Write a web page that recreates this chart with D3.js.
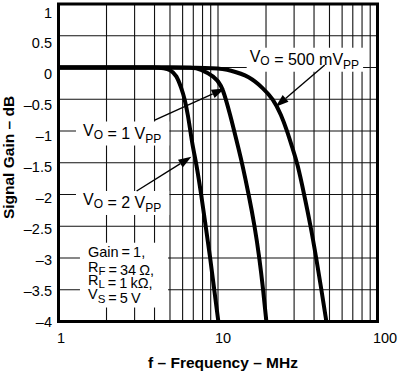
<!DOCTYPE html>
<html>
<head>
<meta charset="utf-8">
<script src="https://cdn.jsdelivr.net/npm/d3@7"></script>
<style>
  body { margin: 0; background: #fff; }
  svg { display: block; font-family: "Liberation Sans", Arial, Helvetica, sans-serif; }
</style>
</head>
<body>
<div id="chart"></div>
<script>
// tick values
const xTicks = [1, 10, 100]
const xGrid = [2, 3, 4, 5, 6, 7, 8, 9, 20, 30, 40, 50, 60, 70, 80, 90]
const yTicks = [1, 0.5, 0, -0.5, -1, -1.5, -2, -2.5, -3, -3.5, -4]

// V_O = 2 Vpp
const freq2 = [1, 2, 3, 4, 4.6, 5.0, 5.5, 5.9, 6.18, 6.48, 6.71, 6.97, 7.3, 7.85, 8.37, 8.94, 9.47, 10.05]
const gain2 = [0, 0, 0, 0, -0.01, -0.03, -0.12, -0.33, -0.49, -0.75, -1.0, -1.27, -1.5, -2.0, -2.5, -3.0, -3.5, -4.0]

// V_O = 1 Vpp
const freq1 = [1, 3, 5, 7, 7.68, 9.5, 10.5, 11.17, 11.93, 12.64, 13.43, 14.14, 15.58, 16.99, 18.18, 19.2, 20.1]
const gain1 = [0, 0, 0, 0, -0.02, -0.14, -0.28, -0.49, -0.75, -1.0, -1.27, -1.5, -2.0, -2.5, -3.0, -3.5, -4.0]

// V_O = 500 mVpp
const freq5 = [1, 3, 5, 10, 11.84, 15.8, 19.2, 22.1, 24.96, 27.1, 29.3, 31.4, 34.7, 38.1, 41.3, 44.5, 47.8]
const gain5 = [0, 0, 0, -0.01, -0.04, -0.14, -0.33, -0.49, -0.75, -1.0, -1.27, -1.5, -2.0, -2.5, -3.0, -3.5, -4.0]

const width = 400
const height = 374
const plot = { left: 58.5, right: 377.5, top: 4, bottom: 321.5 }

const svg = d3.select("#chart").append("svg")
  .attr("width", width)
  .attr("height", height)

const x = d3.scaleLog().domain([1, 100]).range([plot.left, plot.right])
const y = d3.scaleLinear().domain([-4, 1]).range([plot.bottom, plot.top])
// the printed tick labels sit a little off the grid in the original
const xLab = d3.scaleLog().domain([1, 100]).range([61, 385])
const yLab = d3.scaleLinear().domain([-4, 1]).range([321.7, 12.3])

// grid
svg.append("g")
  .selectAll("line")
  .data(xGrid.concat(10))
  .enter()
  .append("line")
    .attr("x1", d => x(d)).attr("x2", d => x(d))
    .attr("y1", plot.top).attr("y2", plot.bottom)
    .attr("stroke", "#111")
    .attr("stroke-width", 1.1)

svg.append("g")
  .selectAll("line")
  .data(yTicks)
  .enter()
  .append("line")
    .attr("x1", plot.left).attr("x2", plot.right)
    .attr("y1", d => y(d)).attr("y2", d => y(d))
    .attr("stroke", "#111")
    .attr("stroke-width", 1.1)

// tick labels
svg.append("g")
  .selectAll("text")
  .data(yTicks)
  .enter()
  .append("text")
    .attr("x", 52)
    .attr("y", d => yLab(d) + 5.2)
    .attr("text-anchor", "end")
    .attr("font-size", 14.5)
    .text(d => d < 0 ? "\u2013" + Math.abs(d) : d)

svg.append("g")
  .selectAll("text")
  .data(xTicks)
  .enter()
  .append("text")
    .attr("x", d => xLab(d))
    .attr("y", 343.3)
    .attr("text-anchor", "middle")
    .attr("font-size", 14.5)
    .text(d => d)

// axis titles
svg.append("text")
  .attr("transform", "translate(13.5,157.5) rotate(-90)")
  .attr("text-anchor", "middle")
  .attr("font-size", 15.5)
  .attr("font-weight", "bold")
  .text("Signal Gain \u2013 dB")

svg.append("text")
  .attr("x", xLab(10))
  .attr("y", 368.3)
  .attr("text-anchor", "middle")
  .attr("font-size", 15.5)
  .attr("font-weight", "bold")
  .text("f \u2013 Frequency \u2013 MHz")

// curves
const line = d3.line()
  .x(d => x(d[0]))
  .y(d => y(d[1]))
  .curve(d3.curveBasis)

svg.append("clipPath").attr("id", "clip")
  .append("rect")
    .attr("x", plot.left).attr("y", plot.top)
    .attr("width", plot.right - plot.left).attr("height", plot.bottom - plot.top)

const series = [
  d3.zip(freq2, gain2),
  d3.zip(freq1, gain1),
  d3.zip(freq5, gain5)
]

svg.append("g")
  .attr("clip-path", "url(#clip)")
  .selectAll("path")
  .data(series)
  .enter()
  .append("path")
    .attr("d", line)
    .attr("fill", "none")
    .attr("stroke", "#000")
    .attr("stroke-width", 4)
    .attr("stroke-linejoin", "round")

// frame
svg.append("rect")
  .attr("x", plot.left).attr("y", plot.top)
  .attr("width", plot.right - plot.left).attr("height", plot.bottom - plot.top)
  .attr("fill", "none")
  .attr("stroke", "#000")
  .attr("stroke-width", 3)

// writes text parts into a <text>, subscripts shifted down
const fillText = (t, parts, subSize) => {
  parts.forEach(p => {
    if (p.sub) {
      t.append("tspan").attr("font-size", subSize).attr("dy", 3.5).text(p.sub)
      t.append("tspan").attr("dy", -3.5).text("")
    } else {
      t.append("tspan").text(p.t)
    }
  })
}

// labels with white backing
const addLabel = (f, g, parts, fontSize, pad) => {
  const grp = svg.append("g")
  const bg = grp.append("rect").attr("fill", "#fff")
  const t = grp.append("text")
    .attr("x", x(f))
    .attr("y", y(g))
    .attr("font-size", fontSize)
  fillText(t, parts, 12)
  const b = t.node().getBBox()
  bg.attr("x", b.x - pad.l).attr("y", b.y - pad.t)
    .attr("width", b.width + pad.l + pad.r).attr("height", b.height + pad.t + pad.b)
}

addLabel(15.8, 0.091, [{ t: "V" }, { sub: "O" }, { t: " = 500 mV" }, { sub: "PP" }], 16, { l: 3, r: 4, t: 0, b: 0 })
addLabel(1.424, -1.071, [{ t: "V" }, { sub: "O" }, { t: " = 1 V" }, { sub: "PP" }], 16, { l: 7, r: 8, t: 0, b: 0 })
addLabel(1.424, -2.165, [{ t: "V" }, { sub: "O" }, { t: " = 2 V" }, { sub: "PP" }], 16, { l: 7, r: 8, t: 0, b: 0 })

// condition box
const box = svg.append("g")
const boxBg = box.append("rect").attr("fill", "#fff")
const boxLines = [
  [{ t: "Gain = 1," }],
  [{ t: "R" }, { sub: "F" }, { t: " = 34 \u03A9," }],
  [{ t: "R" }, { sub: "L" }, { t: " = 1 k\u03A9," }],
  [{ t: "V" }, { sub: "S" }, { t: " =  5 V" }]
]
const boxBase = [-2.98, -3.216, -3.425, -3.646]
boxLines.forEach((parts, i) => {
  const t = box.append("text")
    .attr("x", x(1.53))
    .attr("y", y(boxBase[i]))
    .attr("font-size", 14.5)
    .style("word-spacing", "-1px")
  fillText(t, parts, 11.5)
})
const bb = box.node().getBBox()
boxBg.attr("x", bb.x - 8).attr("y", bb.y - 1).attr("width", bb.width + 22).attr("height", bb.height + 3)

// arrows
const arrows = [
  { from: [4.01, -0.827], to: [11.0, -0.33] },
  { from: [3.09, -1.945], to: [6.81, -1.405] },
  { from: [46.7, 0.04], to: [23.0, -0.62] }
]
arrows.forEach(a => {
  const x0 = x(a.from[0]), y0 = y(a.from[1])
  const x1 = x(a.to[0]), y1 = y(a.to[1])
  const ang = Math.atan2(y1 - y0, x1 - x0)
  const len = 13, hw = 4.5
  const bx = x1 - len * Math.cos(ang), by = y1 - len * Math.sin(ang)
  svg.append("line")
    .attr("x1", x0).attr("y1", y0).attr("x2", bx).attr("y2", by)
    .attr("stroke", "#000").attr("stroke-width", 1.4)
  svg.append("path")
    .attr("d", `M${x1},${y1}L${bx + hw * Math.sin(ang)},${by - hw * Math.cos(ang)}L${bx - hw * Math.sin(ang)},${by + hw * Math.cos(ang)}Z`)
    .attr("fill", "#000")
})
</script>
</body>
</html>
